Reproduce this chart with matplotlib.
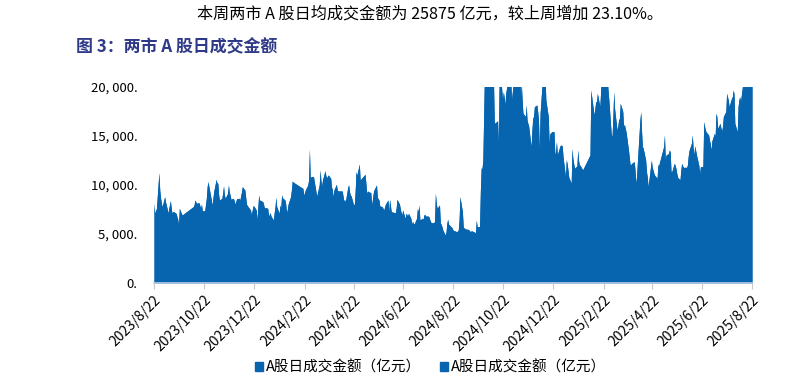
import matplotlib
matplotlib.use("Agg")
import matplotlib.pyplot as plt
import matplotlib.dates as mdates
from matplotlib.patches import Patch
import pandas as pd

plt.rcParams['font.family'] = ['Noto Sans CJK SC', 'DejaVu Sans']

headline = "本周两市 A 股日均成交金额为 25875 亿元，较上周增加 23.10%。"
fig_title = "图 3：两市 A 股日成交金额"
series_label = "A股日成交金额（亿元）"

tick_dates = ["2023-08-22", "2023-10-22", "2023-12-22", "2024-02-22", "2024-04-22",
              "2024-06-22", "2024-08-22", "2024-10-22", "2024-12-22", "2025-02-22",
              "2025-04-22", "2025-06-22", "2025-08-22"]
tick_labels = ["2023/8/22", "2023/10/22", "2023/12/22", "2024/2/22", "2024/4/22",
               "2024/6/22", "2024/8/22", "2024/10/22", "2024/12/22", "2025/2/22",
               "2025/4/22", "2025/6/22", "2025/8/22"]
y_ticks = [0, 5000, 10000, 15000, 20000]
y_tick_labels = ["0.", "5, 000.", "10, 000.", "15, 000.", "20, 000."]

# ---- daily turnover, 2023 (MM-DD) ----
dates_2023 = ["08-22", "08-23", "08-24", "08-25", "08-28", "08-29", "08-30", "08-31",
              "09-01", "09-04", "09-05", "09-06", "09-07", "09-08", "09-11", "09-12",
              "09-13", "09-14", "09-15", "09-18", "09-19", "09-20", "09-21", "09-22",
              "09-25", "09-26", "09-27", "09-28",
              "10-09", "10-10", "10-11", "10-12", "10-13", "10-16", "10-17", "10-18",
              "10-19", "10-20", "10-23", "10-24", "10-25", "10-26", "10-27", "10-30", "10-31",
              "11-01", "11-02", "11-03", "11-06", "11-07", "11-08", "11-09", "11-10",
              "11-13", "11-14", "11-15", "11-16", "11-17", "11-20", "11-21", "11-22",
              "11-23", "11-24", "11-27", "11-28", "11-29", "11-30",
              "12-01", "12-04", "12-05", "12-06", "12-07", "12-08", "12-11", "12-12",
              "12-13", "12-14", "12-15", "12-18", "12-19", "12-20", "12-21", "12-22",
              "12-25", "12-26", "12-27", "12-28", "12-29"]
amount_2023 = [8130, 7100, 7400, 7600, 11250, 9500, 8700, 8130,
               7790, 8800, 8300, 7960, 7600, 7140, 8400, 7700,
               7110, 7300, 7280, 7110, 6770, 6500, 5920, 7620,
               7000, 6940, 7050, 7100,
               7790, 7960, 8470, 8300, 8130, 8200, 7900, 7620,
               8060, 7380, 7350, 8000, 8640, 9830, 10340, 8980, 8500,
               7960, 8600, 9320, 10580, 10200, 10170, 9000, 8470,
               8640, 9200, 9900, 9000, 8640, 9150, 10000, 9300,
               8980, 8540, 8640, 8400, 8060, 8300,
               8600, 8640, 8470, 8900, 9300, 9830, 9490, 8800,
               8060, 7900, 7790, 7450, 6940, 7400, 7860, 7860,
               7450, 6430, 7800, 8980, 8470]

# ---- daily turnover, 2024 ----
dates_2024 = ["01-02", "01-03", "01-04", "01-05", "01-08", "01-09", "01-10", "01-11",
              "01-12", "01-15", "01-16", "01-17", "01-18", "01-19", "01-22", "01-23",
              "01-24", "01-25", "01-26", "01-29", "01-30", "01-31",
              "02-01", "02-02", "02-05", "02-06", "02-07", "02-08", "02-19", "02-20",
              "02-21", "02-22", "02-23", "02-26", "02-27", "02-28", "02-29",
              "03-01", "03-04", "03-05", "03-06", "03-07", "03-08", "03-11", "03-12",
              "03-13", "03-14", "03-15", "03-18", "03-19", "03-20", "03-21", "03-22",
              "03-25", "03-26", "03-27", "03-28", "03-29",
              "04-01", "04-02", "04-03", "04-08", "04-09", "04-10", "04-11", "04-12",
              "04-15", "04-16", "04-17", "04-18", "04-19", "04-22", "04-23", "04-24",
              "04-25", "04-26", "04-29", "04-30",
              "05-06", "05-07", "05-08", "05-09", "05-10", "05-13", "05-14", "05-15",
              "05-16", "05-17", "05-20", "05-21", "05-22", "05-23", "05-24", "05-27",
              "05-28", "05-29", "05-30", "05-31",
              "06-03", "06-04", "06-05", "06-06", "06-07", "06-11", "06-12", "06-13",
              "06-14", "06-17", "06-18", "06-19", "06-20", "06-21", "06-24", "06-25",
              "06-26", "06-27", "06-28",
              "07-01", "07-02", "07-03", "07-04", "07-05", "07-08", "07-09", "07-10",
              "07-11", "07-12", "07-15", "07-16", "07-17", "07-18", "07-19", "07-22",
              "07-23", "07-24", "07-25", "07-26", "07-29", "07-30", "07-31",
              "08-01", "08-02", "08-05", "08-06", "08-07", "08-08", "08-09", "08-12",
              "08-13", "08-14", "08-15", "08-16", "08-19", "08-20", "08-21", "08-22",
              "08-23", "08-26", "08-27", "08-28", "08-29", "08-30",
              "09-02", "09-03", "09-04", "09-05", "09-06", "09-09", "09-10", "09-11",
              "09-12", "09-13", "09-18", "09-19", "09-20", "09-23", "09-24", "09-25",
              "09-26", "09-27", "09-30",
              "10-08", "10-09", "10-10", "10-11", "10-14", "10-15", "10-16", "10-17",
              "10-18", "10-21", "10-22", "10-23", "10-24", "10-25", "10-28", "10-29",
              "10-30", "10-31",
              "11-01", "11-04", "11-05", "11-06", "11-07", "11-08", "11-11", "11-12",
              "11-13", "11-14", "11-15", "11-18", "11-19", "11-20", "11-21", "11-22",
              "11-25", "11-26", "11-27", "11-28", "11-29",
              "12-02", "12-03", "12-04", "12-05", "12-06", "12-09", "12-10", "12-11",
              "12-12", "12-13", "12-16", "12-17", "12-18", "12-19", "12-20", "12-23",
              "12-24", "12-25", "12-26", "12-27", "12-30", "12-31"]
amount_2024 = [8300, 8000, 7620, 7700, 7620, 6830, 7000, 7180,
               6830, 6430, 7200, 7800, 8740, 7800, 7110, 7960,
               7620, 8980, 8700, 8470, 8060, 7180,
               7500, 8060, 8810, 9500, 10410, 10300, 9700, 9660,
               8980, 9200, 9490, 10000, 10500, 13650, 10680,
               10850, 10850, 10300, 9830, 9300, 8880, 10000, 11530,
               10500, 9900, 10510, 11460, 11000, 10680, 10900, 11020,
               10680, 9830, 9490, 8810, 9500,
               10070, 9490, 9390, 9390, 8900, 8400, 8500, 8300,
               9830, 10000, 9300, 8980, 8880, 7960, 8060, 9500,
               11360, 11000, 12140, 10510,
               11090, 10200, 9150, 9400, 9320, 9220, 7960, 8500,
               9150, 9500, 10000, 8740, 8600, 8470, 7860, 7790,
               7600, 7450, 7800, 8060,
               8470, 7280, 8540, 7900, 7280, 7180, 7180, 7600,
               8540, 8060, 7620, 7200, 6940, 7450, 6600, 7110,
               7000, 6830, 7110,
               6600, 6020, 6300, 6100, 6020, 6600, 7620, 7300,
               7960, 6430, 6600, 6500, 6940, 7000, 6830, 6830,
               6770, 6500, 6260, 6150, 6150, 6300, 9150,
               8200, 7620, 7960, 6090, 6000, 5750, 5410, 4900,
               5200, 6090, 6500, 6020, 5750, 5680, 5500, 5340,
               5340, 5240, 5300, 5410, 6500, 8810,
               7280, 5750, 5600, 5580, 5500, 5480, 5410, 5300,
               5240, 5340, 5140, 6430, 5750, 5750, 9450, 11730,
               11700, 12500, 26000,
               34800, 21000, 20500, 16290, 16460, 16560, 14250, 21000,
               22000, 18670, 19500, 19010, 18200, 19350, 21000, 21500,
               21000, 21000,
               18670, 21000, 25000, 24000, 28000, 29000, 24000, 18670,
               20500, 18670, 17320, 17000, 18160, 16630, 16290, 16000,
               13910, 15610, 16800, 17000, 17990,
               18160, 17500, 16630, 13570, 17320, 21000, 22000, 20500,
               21000, 18670, 16970, 14250, 15270, 15270, 15440, 15440,
               13060, 13500, 14420, 13060, 13910, 14080]

# ---- daily turnover, 2025 ----
dates_2025 = ["01-02", "01-03", "01-06", "01-07", "01-08", "01-09", "01-10", "01-13",
              "01-14", "01-15", "01-16", "01-17", "01-20", "01-21", "01-22", "01-23",
              "01-24", "01-27",
              "02-05", "02-06", "02-07", "02-10", "02-11", "02-12", "02-13", "02-14",
              "02-17", "02-18", "02-19", "02-20", "02-21", "02-24", "02-25", "02-26",
              "02-27", "02-28",
              "03-03", "03-04", "03-05", "03-06", "03-07", "03-10", "03-11", "03-12",
              "03-13", "03-14", "03-17", "03-18", "03-19", "03-20", "03-21", "03-24",
              "03-25", "03-26", "03-27", "03-28", "03-31",
              "04-01", "04-02", "04-03", "04-07", "04-08", "04-09", "04-10", "04-11",
              "04-14", "04-15", "04-16", "04-17", "04-18", "04-21", "04-22", "04-23",
              "04-24", "04-25", "04-28", "04-29", "04-30",
              "05-06", "05-07", "05-08", "05-09", "05-12", "05-13", "05-14", "05-15",
              "05-16", "05-19", "05-20", "05-21", "05-22", "05-23", "05-26", "05-27",
              "05-28", "05-29", "05-30",
              "06-03", "06-04", "06-05", "06-06", "06-09", "06-10", "06-11", "06-12",
              "06-13", "06-16", "06-17", "06-18", "06-19", "06-20", "06-23", "06-24",
              "06-25", "06-26", "06-27", "06-30",
              "07-01", "07-02", "07-03", "07-04", "07-07", "07-08", "07-09", "07-10",
              "07-11", "07-14", "07-15", "07-16", "07-17", "07-18", "07-21", "07-22",
              "07-23", "07-24", "07-25", "07-28", "07-29", "07-30", "07-31",
              "08-01", "08-04", "08-05", "08-06", "08-07", "08-08", "08-11", "08-12",
              "08-13", "08-14", "08-15", "08-18", "08-19", "08-20", "08-21", "08-22"]
amount_2025 = [14000, 12890, 10850, 12550, 12200, 11530, 10800, 10170,
               13740, 12720, 12200, 11700, 11940, 13570, 12500, 12040,
               12000, 11530,
               13060, 19690, 19010, 17140, 17820, 18500, 18500, 19350,
               17990, 19520, 21500, 22000, 22500, 21000, 20500, 21000,
               19690, 18670,
               15100, 15000, 17000, 19520, 17820, 15610, 16000, 16630,
               16800, 18330, 17500, 15950, 16200, 15780, 15440, 13570,
               12800, 12040, 12100, 12210, 12380,
               11530, 10170, 11000, 16630, 17480, 15500, 13910, 13740,
               12550, 11360, 10800, 9830, 10510, 12550, 11800, 11530,
               11200, 11000, 10680, 12040, 12000,
               13910, 15100, 12550, 13060, 13200, 13570, 13400, 11360,
               11360, 12210, 12000, 11700, 11190, 10800, 10510, 11500,
               12210, 12000, 11800,
               11800, 12000, 12890, 13500, 14250, 15100, 13800, 13060,
               14000, 12720, 12380, 12000, 11190, 11870, 11870, 16460,
               16000, 15610, 15400, 15100,
               14590, 14200, 13570, 14500, 15270, 15000, 17320, 17000,
               15780, 16290, 15800, 15500, 16000, 16970, 17500, 19350,
               19000, 18670, 17990, 18840, 19000, 19690, 19300,
               16290, 15440, 17990, 18670, 19010, 18500, 20500, 21000,
               21700, 22000, 22500, 27500, 26400, 24000, 24500, 27000]

dates = pd.to_datetime(["2023-" + d for d in dates_2023] +
                       ["2024-" + d for d in dates_2024] +
                       ["2025-" + d for d in dates_2025])
amount = amount_2023 + amount_2024 + amount_2025

area_color = "#0665AE"

fig = plt.figure(figsize=(7.95, 3.83), dpi=100)
ax = fig.add_axes([0.1937, 0.261, 0.7522, 0.512])

ax.fill_between(dates, amount, 0, color=area_color, lw=0, label=series_label)
ax.fill_between(dates, amount, 0, color=area_color, lw=0, label=series_label)

ax.set_xlim(pd.Timestamp(tick_dates[0]), pd.Timestamp(tick_dates[-1]))
ax.set_ylim(0, 20000)
ax.set_xticks(pd.to_datetime(tick_dates))
ax.set_xticklabels(tick_labels, rotation=45, ha="right", rotation_mode="anchor",
                   fontsize=10)
ax.set_yticks(y_ticks)
ax.set_yticklabels(y_tick_labels, fontsize=9.5)

for s in ["top", "right", "left"]:
    ax.spines[s].set_visible(False)
ax.spines["bottom"].set_color("#BCCDE4")
ax.spines["bottom"].set_linewidth(1.2)
ax.tick_params(axis="x", length=4, color="#C8C8C8", pad=3)
ax.tick_params(axis="y", length=0, pad=12)

fig.text(0.541, 0.963, headline, ha="center", va="center", fontsize=11.6, color="black")
fig.text(0.095, 0.877, fig_title, ha="left", va="center", fontsize=12.2,
         fontweight="bold", color="#2E3A87")

handles = [Patch(color=area_color), Patch(color=area_color)]
fig.legend(handles, [series_label, series_label], loc="center", ncol=2,
           bbox_to_anchor=(0.541, 0.04), frameon=False, fontsize=10.5,
           handlelength=0.55, handleheight=0.55, handletextpad=0.2,
           columnspacing=1.3)

fig.savefig("out.png", dpi=100)
